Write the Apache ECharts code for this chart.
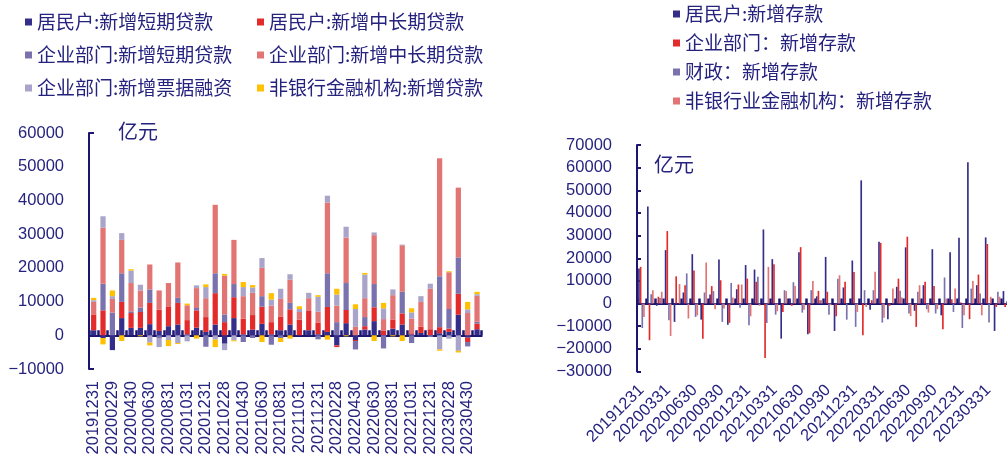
<!DOCTYPE html>
<html><head><meta charset="utf-8">
<script src="https://cdn.jsdelivr.net/npm/echarts/dist/echarts.min.js"></script>
<style>html,body{margin:0;padding:0;background:#fff;}#c{width:1007px;height:458px;}</style>
</head><body><div id="c"></div>
<script>
// ---------- categories ----------
const months = ['20191231','20200131','20200229','20200331','20200430','20200531','20200630','20200731','20200831','20200930','20201031','20201130','20201231','20210131','20210228','20210331','20210430','20210531','20210630','20210731','20210831','20210930','20211031','20211130','20211231','20220131','20220228','20220331','20220430','20220531','20220630','20220731','20220831','20220930','20221031','20221130','20221231','20230131','20230228','20230331','20230430','20230531'];

// ---------- left chart: new loans (亿元) ----------
const loanHhShort = [1500,-800,-4400,5100,2200,2200,3300,1300,2700,3200,300,2300,1000,3200,-2500,5100,300,1700,3400,300,1500,3200,0,1500,300,1000,-3000,3600,-1400,1700,4200,0,2000,3200,300,700,0,600,1000,6100,-700,1800];
const loanHhLong  = [4700,7400,0,4800,4400,4700,6300,6300,5700,6400,4200,5100,4400,9300,3900,6200,4600,4300,5100,3600,4100,4500,4600,5700,3500,7400,-500,3900,-300,1000,4100,1300,2700,3300,300,1800,1800,1800,1000,6200,-1300,1700];
const loanCoShort = [0,7900,6700,8500,500,1300,4000,-1000,0,1500,0,700,-3400,5900,2300,3900,-2000,-800,3100,-2800,-800,1900,0,0,-1200,10000,3900,8000,-2500,2700,6900,-3900,0,6400,-2300,0,-500,15100,5800,10800,-1300,500];
const loanCoLong  = [3700,16600,4100,9900,8400,5100,7400,5700,7100,10500,4400,5900,5600,20300,11500,13100,6700,6600,8400,4900,5200,6900,2300,3800,3200,21000,4900,13500,2500,5600,14500,3500,7200,13800,4400,7400,12000,35000,10900,20700,6600,7700];
const loanBills   = [500,3400,800,2000,3700,1700,-2200,-2500,-1400,-2300,-1800,800,3300,-1300,-1900,-1500,2700,1600,2900,1800,3000,1600,900,1600,4400,2000,3300,3200,5300,7000,800,3200,1700,200,1800,1700,1500,-4200,-1000,-4600,1100,500];
const loanNonBank = [700,-1900,1700,-1700,400,-300,-800,0,-1800,-300,500,-1000,800,-2200,500,-300,1500,700,-2000,1900,-1200,-1000,800,0,500,-1300,1700,-300,1400,500,-1700,1600,-300,-1700,1200,0,0,-400,300,-500,2200,700];

// ---------- right chart: new deposits (亿元) ----------
const depHousehold = [15500,42800,-1000,23600,-8100,4900,21800,-7100,4000,19500,-9400,6300,17000,15000,32700,19600,-15500,2200,22600,-13600,3200,20600,-12100,7100,19000,54400,-2700,27300,-6900,7400,24800,-3200,8100,24000,-5200,22600,29100,62400,8100,29200,-12100,5500];
const depCorporate = [16200,-16200,3000,32000,12000,8100,14600,-15500,7700,10300,-8500,8400,11000,9600,-24000,17400,-3700,-1000,24900,-13100,5600,5200,-5600,9600,13900,-14000,1500,26800,-1000,11000,29500,-10300,9600,7700,-11400,1900,500,-6900,12800,26300,-1500,-1500];
const depFiscal    = [-10800,4100,2500,-7400,0,13300,-5900,4900,5500,-8100,9100,-1900,-9600,11800,-8600,-4900,5900,9400,-4000,5900,1500,-4900,11000,-7100,-10300,5900,5900,-8400,0,5600,-4400,5200,-2500,-4400,11500,-3700,-10800,6600,4400,-8400,5200,1000];
const depNonBank   = [-5900,5900,5200,-14300,8600,-6600,-5200,18100,-2500,-2200,2700,8400,-5600,-1000,16200,-3400,5500,7800,-2700,10000,1500,-700,12500,0,-3700,-1500,14000,-6300,6600,2700,-5500,8100,-4000,-2500,2200,6600,-5200,10000,-5200,3000,3000,-1500];

// ---------- axis ticks ----------
const leftTicks  = {min: -10000, max: 60000, interval: 10000};
const rightTicks = {min: -30000, max: 70000, interval: 10000};

// ---------- names & colours ----------
const NAVY = '#1c1670', TXT = '#26237f';
const C = {navy:'#352d8a', red:'#e32b2b', purple:'#7a72ae', salmon:'#e27474', lav:'#a9a4c9', gold:'#ffc000'};
const loanNames = ['居民户:新增短期贷款','居民户:新增中长期贷款','企业部门:新增短期贷款','企业部门:新增中长期贷款','企业部门:新增票据融资','非银行金融机构:新增贷款'];
const loanData = [loanHhShort, loanHhLong, loanCoShort, loanCoLong, loanBills, loanNonBank];
const loanColors = [C.navy, C.red, C.purple, C.salmon, C.lav, C.gold];
const depNames = ['居民户:新增存款','企业部门：新增存款','财政：新增存款','非银行业金融机构：新增存款'];
const depData = [depHousehold, depCorporate, depFiscal, depNonBank];
const depColors = [C.navy, C.red, C.purple, C.salmon];

const chart = echarts.init(document.getElementById('c'), null, {renderer: 'canvas'});

const numFont = {color: TXT, fontSize: 16.5, fontFamily: 'Liberation Sans, Arial, sans-serif'};
const cjk = 'Noto Sans CJK SC';

function zeroAxis(gi) {
  return {type: 'category', gridIndex: gi, data: months, boundaryGap: true,
    axisLine: {onZero: true, lineStyle: {color: NAVY, width: 2}},
    axisTick: {show: true, inside: true, length: 5, interval: 0, lineStyle: {color: NAVY, width: 2.5}},
    axisLabel: {show: false}, splitLine: {show: false}};
}
function labelAxis(gi, rot, iv, mg) {
  return {type: 'category', gridIndex: gi, data: months, boundaryGap: true, position: 'bottom',
    axisLine: {show: false, onZero: false}, axisTick: {show: false}, splitLine: {show: false},
    axisLabel: Object.assign({interval: iv, rotate: rot, margin: mg}, numFont)};
}
function valAxis(gi, t, ticks) {
  return Object.assign({type: 'value', gridIndex: gi, splitLine: {show: false},
    axisLine: {show: true, lineStyle: {color: NAVY, width: 2}},
    axisTick: {show: ticks, inside: true, length: 4, lineStyle: {color: NAVY, width: 2}},
    axisLabel: Object.assign({margin: 25, formatter: v => String(v).replace('-', '\u2212')}, numFont)}, t);
}

const legends = [];
const lpos = [[25,12],[257,12],[25,45],[257,45],[25,78],[257,78]];
loanNames.forEach((n, i) => legends.push({data: [n], left: lpos[i][0], top: lpos[i][1], padding: 0,
  itemWidth: 7, itemHeight: 7, icon: 'rect', selectedMode: false,
  textStyle: {color: TXT, fontSize: 19, fontFamily: cjk, lineHeight: 20}}));
const rpos = [4, 33, 62, 91];
depNames.forEach((n, i) => legends.push({data: [n], left: 673, top: rpos[i], padding: 0,
  itemWidth: 7, itemHeight: 7, icon: 'rect', selectedMode: false,
  textStyle: {color: TXT, fontSize: 19, fontFamily: cjk, lineHeight: 20}}));

const series = [];
loanNames.forEach((n, i) => series.push({name: n, type: 'bar', stack: 'loan', xAxisIndex: 0, yAxisIndex: 0,
  data: loanData[i], barWidth: '56%', itemStyle: {color: loanColors[i]}, animation: false}));
depNames.forEach((n, i) => series.push({name: n, type: 'bar', xAxisIndex: 2, yAxisIndex: 1,
  data: depData[i], barGap: '0%', barCategoryGap: '25%', itemStyle: {color: depColors[i]}, animation: false}));

chart.setOption({
  backgroundColor: '#fff',
  animation: false,
  grid: [
    {left: 89, top: 133, width: 392.7, height: 236, outerBoundsMode: 'none', containLabel: false},
    {left: 637, top: 145, width: 373.4, height: 226.5, outerBoundsMode: 'none', containLabel: false}
  ],
  legend: legends,
  xAxis: [zeroAxis(0), labelAxis(0, 90, 1, 12), zeroAxis(1), labelAxis(1, 45, 2, 16)],
  yAxis: [valAxis(0, leftTicks, false), valAxis(1, rightTicks, true)],
  series: series
});

// unit labels and end caps of the left value axis
const yT = chart.convertToPixel({yAxisIndex: 0}, leftTicks.max);
const yB = chart.convertToPixel({yAxisIndex: 0}, leftTicks.min);
chart.setOption({graphic: [
  {type: 'text', left: 118, top: 121, style: {text: '亿元', fill: TXT, font: '20px "Noto Sans CJK SC"'}},
  {type: 'text', left: 654, top: 154, style: {text: '亿元', fill: TXT, font: '20px "Noto Sans CJK SC"'}},
  {type: 'line', shape: {x1: 89, y1: yT, x2: 94, y2: yT}, style: {stroke: NAVY, lineWidth: 2}},
  {type: 'line', shape: {x1: 89, y1: yB, x2: 94, y2: yB}, style: {stroke: NAVY, lineWidth: 2}}
]});
</script></body></html>
